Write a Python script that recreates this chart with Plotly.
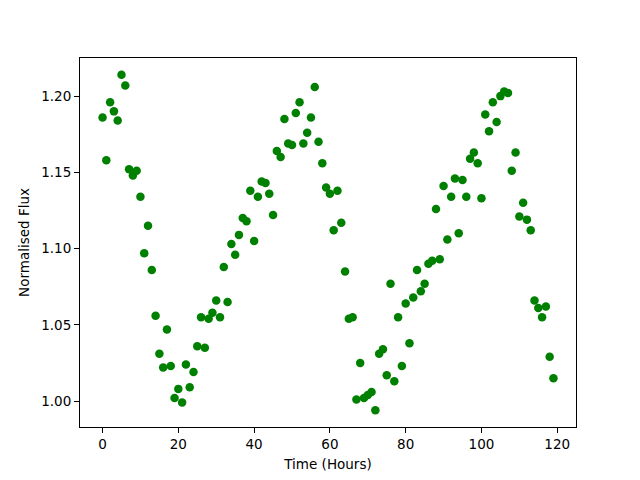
import plotly.graph_objects as go

hours = list(range(120))
flux = [
    1.186, 1.158, 1.196, 1.190, 1.184, 1.214, 1.207, 1.152, 1.148, 1.151,
    1.134, 1.097, 1.115, 1.086, 1.056, 1.031, 1.022, 1.047, 1.023, 1.002,
    1.008, 0.999, 1.024, 1.009, 1.019, 1.036, 1.055, 1.035, 1.054, 1.058,
    1.066, 1.055, 1.088, 1.065, 1.103, 1.096, 1.109, 1.120, 1.118, 1.138,
    1.105, 1.134, 1.144, 1.143, 1.136, 1.122, 1.164, 1.160, 1.185, 1.169,
    1.168, 1.189, 1.196, 1.169, 1.176, 1.186, 1.206, 1.170, 1.156, 1.140,
    1.136, 1.112, 1.138, 1.117, 1.085, 1.054, 1.055, 1.001, 1.025, 1.002,
    1.004, 1.006, 0.994, 1.031, 1.034, 1.017, 1.077, 1.013, 1.055, 1.023,
    1.064, 1.038, 1.068, 1.086, 1.072, 1.077, 1.090, 1.092, 1.126, 1.093,
    1.141, 1.106, 1.134, 1.146, 1.110, 1.145, 1.134, 1.159, 1.163, 1.156,
    1.133, 1.188, 1.177, 1.196, 1.183, 1.200, 1.203, 1.202, 1.151, 1.163,
    1.121, 1.130, 1.119, 1.112, 1.066, 1.061, 1.055, 1.062, 1.029, 1.015,
]
x_ticks = [0, 20, 40, 60, 80, 100, 120]
y_ticks = [1.00, 1.05, 1.10, 1.15, 1.20]

fig = go.Figure(go.Scatter(
    x=hours, y=flux, mode="markers",
    marker=dict(color="#008000", size=8.5, line=dict(width=0)),
))

font = dict(family="DejaVu Sans", size=13.5, color="black")
axis_common = dict(
    showline=True, linecolor="black", linewidth=1, mirror=True,
    ticks="outside", ticklen=5, tickcolor="black", tickwidth=1,
    showgrid=False, zeroline=False, automargin=False,
    tickfont=font,
)
fig.update_xaxes(
    range=[-5.95, 124.95], tickvals=x_ticks,
    title=dict(text="Time (Hours)", font=font, standoff=8),
    **axis_common,
)
fig.update_yaxes(
    range=[0.983, 1.225], tickvals=y_ticks, tickformat=".2f",
    title=dict(text="Normalised Flux", font=font, standoff=8),
    **axis_common,
)
# page body has an 8px default margin, so shrink the figure and shift margins
fig.update_layout(
    width=624, height=464,
    margin=dict(l=72, r=56, t=50, b=45),
    plot_bgcolor="white", paper_bgcolor="white",
    showlegend=False,
)
fig.write_html("out.html")
